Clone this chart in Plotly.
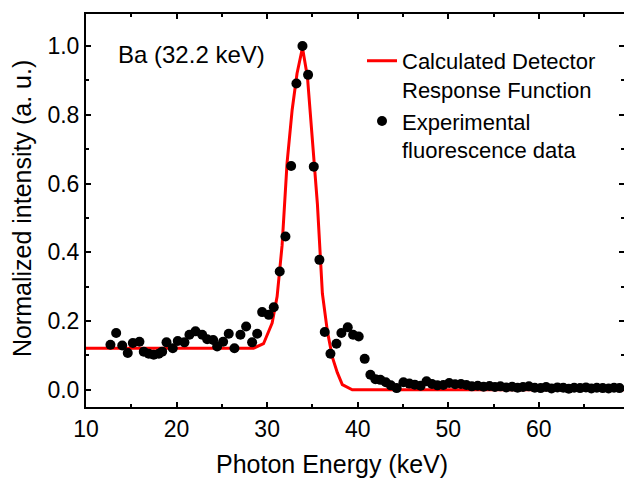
import plotly.graph_objects as go

# Experimental fluorescence data (energy keV, normalized intensity)
exp_energy = [12.70, 13.33, 14.00, 14.61, 15.17, 15.90, 16.38, 16.93, 17.48, 18.04,
              18.41, 18.89, 19.58, 20.13, 20.87, 21.42, 22.09, 22.83, 23.38, 24.04,
              24.48, 25.14, 25.76, 26.39, 27.05, 27.68, 28.34, 28.90, 29.45, 30.18,
              30.73, 31.39, 32.02, 32.65, 33.23, 33.90, 34.52, 35.15, 35.77, 36.36,
              36.99, 37.65, 38.20, 38.90, 39.49, 40.11, 40.77,
              41.40, 41.95, 42.50, 43.10, 43.65, 44.30, 45.05, 45.70, 46.30, 46.95,
              47.60, 48.20, 48.80, 49.45, 50.10, 50.75, 51.40, 52.00, 52.60, 53.25,
              53.90, 54.55, 55.15, 55.75, 56.40, 57.05, 57.65, 58.25, 58.90, 59.55,
              60.20, 60.80, 61.40, 62.05, 62.70, 63.30, 63.90, 64.55, 65.20, 65.80,
              66.40, 67.05, 67.70, 68.30, 68.90]
exp_value = [0.131, 0.165, 0.129, 0.107, 0.136, 0.140, 0.111, 0.105, 0.102, 0.105,
             0.111, 0.138, 0.121, 0.142, 0.138, 0.160, 0.170, 0.160, 0.147, 0.145,
             0.126, 0.140, 0.163, 0.121, 0.160, 0.184, 0.138, 0.163, 0.226, 0.218,
             0.240, 0.344, 0.446, 0.651, 0.891, 1.000, 0.916, 0.649, 0.378, 0.168,
             0.105, 0.134, 0.165, 0.182, 0.160, 0.155, 0.090,
             0.044, 0.031, 0.029, 0.022, 0.013, 0.005, 0.022, 0.018, 0.015, 0.012,
             0.025, 0.017, 0.013, 0.014, 0.020, 0.016, 0.017, 0.014, 0.010, 0.012,
             0.009, 0.011, 0.008, 0.010, 0.007, 0.009, 0.006, 0.008, 0.010, 0.006,
             0.005, 0.008, 0.004, 0.007, 0.006, 0.003, 0.006, 0.005, 0.007, 0.004,
             0.006, 0.005, 0.004, 0.006, 0.005]

# Calculated detector response function
calc_energy = [10.0, 28.50, 29.60, 30.55, 31.10, 31.65, 32.20, 32.76, 33.30, 33.90,
               34.45, 35.00, 35.55, 36.10, 36.65, 37.20, 37.75, 38.30, 39.40, 70.0]
calc_value = [0.121, 0.121, 0.134, 0.194, 0.271, 0.420, 0.660, 0.814, 0.920, 0.995,
              0.910, 0.730, 0.540, 0.280, 0.170, 0.095, 0.050, 0.015, 0.000, 0.000]

FONT = "Liberation Sans, Arial, sans-serif"
TICK_FONT = 23
TITLE_FONT = 25

fig = go.Figure()
fig.add_trace(go.Scatter(
    x=calc_energy, y=calc_value, mode="lines",
    line=dict(color="#ff0000", width=3),
    name="Calculated Detector<br>Response Function"))
fig.add_trace(go.Scatter(
    x=exp_energy, y=exp_value, mode="markers",
    marker=dict(color="black", size=10),
    name="Experimental<br>fluorescence data"))

yr = [-0.05, 1.093]
fig.update_layout(
    width=624, height=478,
    margin=dict(l=86, r=0, t=14, b=71),
    paper_bgcolor="white", plot_bgcolor="white",
    font=dict(family=FONT, size=20, color="black"),
    showlegend=True,
    legend=dict(x=0.513, y=0.934, xanchor="left", yanchor="top",
                bgcolor="rgba(0,0,0,0)", borderwidth=0, valign="top",
                font=dict(size=22), tracegroupgap=0),
    xaxis=dict(range=[10, 69.4], showline=True, linecolor="black", linewidth=2,
               mirror="ticks", ticks="inside", ticklen=5, tickwidth=2,
               tickcolor="black", dtick=10, tick0=10,
               minor=dict(ticks="inside", ticklen=3, tickwidth=2, dtick=5,
                          tickcolor="black"),
               showgrid=False, zeroline=False,
               tickfont=dict(size=TICK_FONT)),
    yaxis=dict(range=yr, showline=True, linecolor="black", linewidth=2,
               ticks="inside", ticklen=5, tickwidth=2, tickcolor="black",
               dtick=0.2, tick0=0, tickformat=".1f",
               minor=dict(ticks="inside", ticklen=3, tickwidth=2, dtick=0.1,
                          tickcolor="black"),
               showgrid=False, zeroline=False,
               tickfont=dict(size=TICK_FONT)),
    yaxis2=dict(range=yr, overlaying="y", side="right", showline=False,
                ticks="inside", ticklen=5, tickwidth=2, tickcolor="black",
                dtick=0.2, tick0=0, showticklabels=False,
                minor=dict(ticks="inside", ticklen=3, tickwidth=2, dtick=0.1,
                           tickcolor="black"),
                showgrid=False, zeroline=False),
    annotations=[
        dict(text="Ba (32.2 keV)", xref="paper", yref="paper",
             x=0.0558, y=0.896, xanchor="left", yanchor="middle",
             showarrow=False, font=dict(size=24)),
        dict(text="Photon Energy (keV)", xref="paper", yref="paper",
             x=0.457, y=-0.145, xanchor="center", yanchor="middle",
             showarrow=False, font=dict(size=TITLE_FONT)),
        dict(text="Normalized intensity (a. u.)", xref="paper", yref="paper",
             x=-0.119, y=0.506, xanchor="center", yanchor="middle",
             textangle=-90, showarrow=False, font=dict(size=TITLE_FONT)),
    ],
)
# invisible helper so the right axis is drawn
fig.add_trace(go.Scatter(x=[], y=[], yaxis="y2", showlegend=False))

fig.write_html("out.html")
